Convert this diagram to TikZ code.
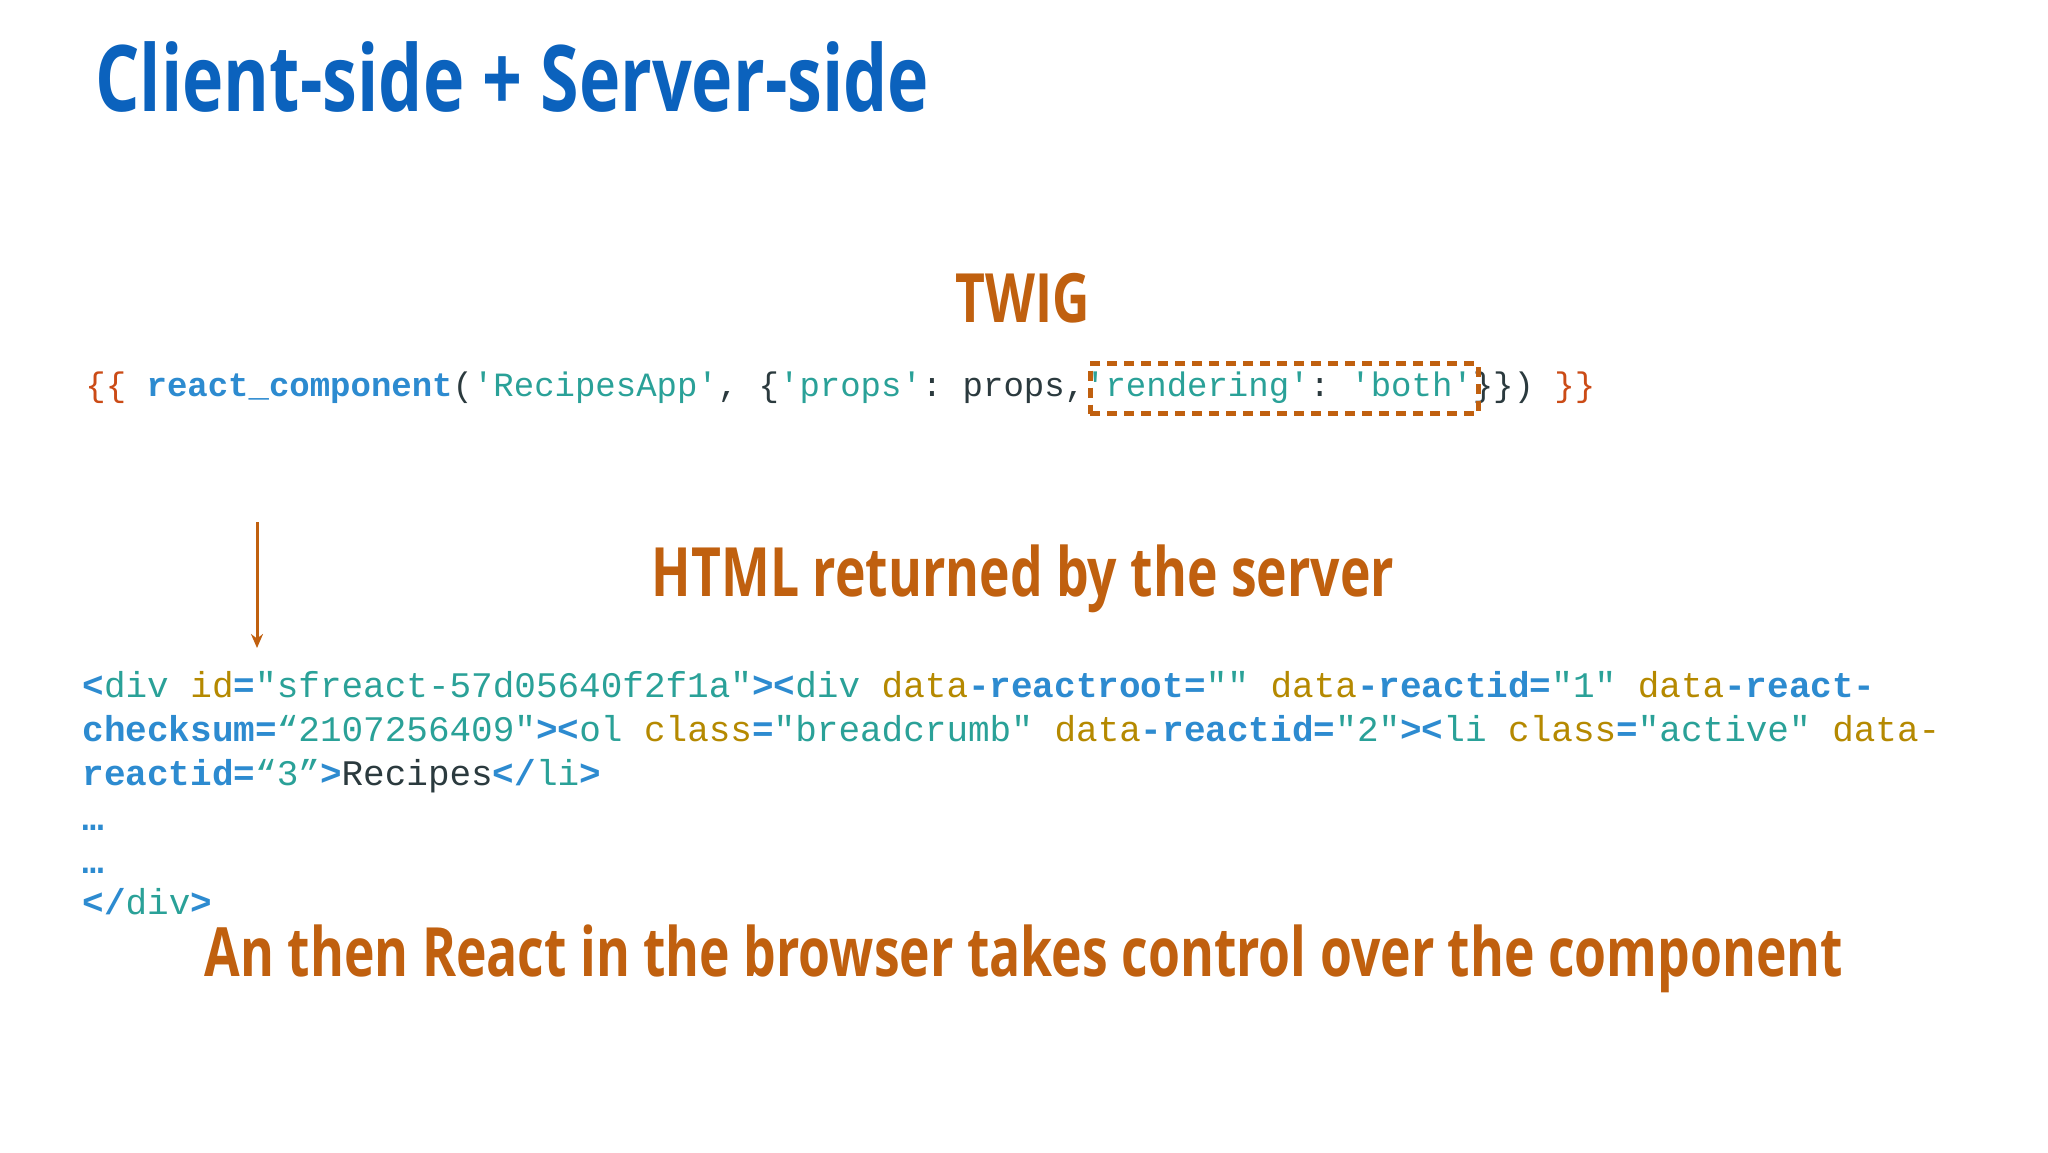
\documentclass[tikz,border=0pt]{standalone}
\usepackage{fontspec}
\usetikzlibrary{arrows.meta}
\setmonofont{Liberation Mono}
\newfontfamily\headfont[FakeStretch=0.76]{Open Sans Bold}
\definecolor{cblue}{HTML}{2D8BD0}
\definecolor{cteal}{HTML}{2AA198}
\definecolor{cgold}{HTML}{B58900}
\definecolor{cdark}{HTML}{2B3A3E}
\definecolor{corange}{HTML}{CB4B16}
\definecolor{ttlblue}{HTML}{0B62BD}
\definecolor{hdorange}{HTML}{C0600F}
\newcommand{\cB}[1]{\textcolor{cblue}{\bfseries #1}}
\newcommand{\cT}[1]{\textcolor{cteal}{#1}}
\newcommand{\cG}[1]{\textcolor{cgold}{#1}}
\newcommand{\cD}[1]{\textcolor{cdark}{#1}}
\newcommand{\cO}[1]{\textcolor{corange}{#1}}
\tikzset{
  code/.style={anchor=base west,inner sep=0pt,font=\ttfamily\fontsize{18}{18}\selectfont},
  twig/.style={anchor=base west,inner sep=0pt,font=\ttfamily\fontsize{17}{17}\selectfont},
  head/.style={inner sep=0pt,text=hdorange,font=\headfont\fontsize{34}{34}\selectfont},
}
\begin{document}
\begin{tikzpicture}[x=0.5pt,y=-0.5pt]
\useasboundingbox[fill=white] (0,0) rectangle (2048,1152);
\node[anchor=base west,inner sep=0pt,text=ttlblue,font=\headfont\fontsize{46}{46}\selectfont] (title) at (95,111) {Client-side + Server-side};
\node[head,anchor=base] (twighead) at (1023,322) {TWIG};
\node[twig] (twig) at (85,396) {\cO{\{\{} \cB{react\_component}\cD{(}\cT{'RecipesApp'}\cD{, \{}\cT{'props'}\cD{: props,}\cT{'rendering'}\cD{: }\cT{'both'}\cD{\}\})} \cO{\}\}}};
\node[draw=hdorange,line width=2.5pt,dash pattern=on 5pt off 3.5pt,minimum width=194pt,minimum height=25pt,inner sep=0pt] (box) at (1284,388.5) {};
\node[head,anchor=base] (htmlhead) at (1023,596) {HTML returned by the server};
\coordinate (a1) at (257,522);
\coordinate (a2) at (257,648);
\draw[hdorange,line width=1.5pt,-{Stealth[length=7pt,width=6pt]}] (a1) -- (a2);
\node[code] (l1) at (82,697) {\cB{<}\cT{div} \cG{id}\cB{=}\cT{"sfreact-57d05640f2f1a"}\cB{><}\cT{div} \cG{data}\cB{-reactroot=}\cT{""} \cG{data}\cB{-reactid=}\cT{"1"} \cG{data}\cB{-react-}};
\node[code] (l2) at (82,741) {\cB{checksum=}\cT{“2107256409"}\cB{><}\cT{ol} \cG{class}\cB{=}\cT{"breadcrumb"} \cG{data}\cB{-reactid=}\cT{"2"}\cB{><}\cT{li} \cG{class}\cB{=}\cT{"active"} \cG{data-}};
\node[code] (l3) at (82,785) {\cB{reactid=}\cT{“3”}\cB{>}\cD{Recipes}\cB{</}\cT{li}\cB{>}};
\node[code] (l4) at (82,830) {\cB{…}};
\node[code] (l5) at (82,873) {\cB{…}};
\node[code] (l6) at (82,914) {\cB{</}\cT{div}\cB{>}};
\node[head,anchor=base] (final) at (1024,976) {An then React in the browser takes control over the component};
\end{tikzpicture}
\end{document}
